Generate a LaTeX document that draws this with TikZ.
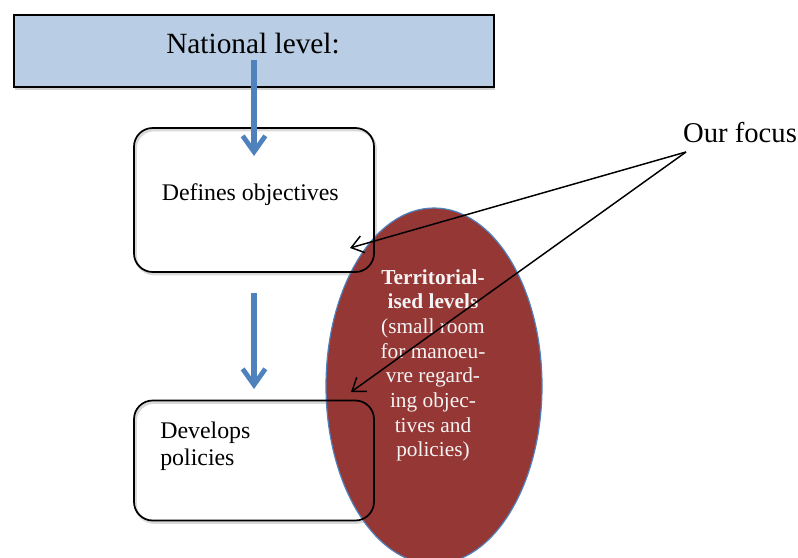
\documentclass[tikz,border=0pt]{standalone}
\usepackage{fontspec}
\setmainfont{Liberation Serif}
\usetikzlibrary{arrows.meta,shadows,shapes.geometric}
\definecolor{accblue}{HTML}{4F81BD}
\definecolor{lightblue}{HTML}{B9CDE5}
\definecolor{darkred}{HTML}{953735}
\definecolor{paletext}{HTML}{F4F4F4}
\tikzset{
  softshadow/.style={drop shadow={opacity=0.3,shadow xshift=1pt,shadow yshift=-2pt,fill=black!60}},
  natbox/.style={draw=black,line width=1.4pt,fill=lightblue,minimum width=360pt,minimum height=54pt,inner sep=0pt,softshadow},
  roundbox/.style={draw=black,line width=1.3pt,rounded corners=14pt,minimum width=180pt,inner sep=0pt},
  boxshadow/.style={draw=black!25,line width=2pt,rounded corners=14pt,minimum width=180pt,inner sep=0pt,opacity=0.6},
  flowarrow/.style={draw=accblue,line width=4.2pt,-{Straight Barb[length=12pt,width=17pt,line width=3.6pt]}},
  focusarrow/.style={draw=black,line width=1.1pt,-{Straight Barb[length=9pt,width=13pt,line width=1.1pt]}},
  terrshape/.style={ellipse,draw=accblue,line width=0.9pt,fill=darkred,minimum width=162pt,minimum height=267pt,inner sep=0pt},
  bigtext/.style={font=\fontsize{22}{26}\selectfont},
  boxtext/.style={font=\fontsize{17.9}{20}\selectfont,inner sep=0pt},
}
\begin{document}
\begin{tikzpicture}[x=0.75pt,y=-0.75pt]
\useasboundingbox (0,0) rectangle (798,557);
\begin{scope}
\clip (0,0) rectangle (798,557);
% national level box
\node[natbox] (nat) at (254,51) {};
\node[bigtext,anchor=base,inner sep=0pt] (nattext) at (253,53) {National level:};
% soft shadows of the boxes
\node[boxshadow,minimum height=108pt] (defs) at (255.5,202) {};
\node[boxshadow,minimum height=90pt] (devs) at (255.5,462.5) {};
% ellipse
\node[terrshape] (terr) at (434,386) {};
\node[anchor=north,align=center,text=paletext,inner sep=0pt,
      font=\fontsize{16}{18.5}\selectfont] (terrtext) at (433,269)
  {\textbf{Territorial-}\\\textbf{ised levels}\\(small room\\for manoeu-\\vre regard-\\ing objec-\\tives and\\policies)};
% boxes (outline only, drawn over ellipse)
\node[roundbox,minimum height=108pt] (def) at (254,200) {};
\node[roundbox,minimum height=90pt] (dev) at (254,460.5) {};
\node[boxtext,anchor=base west] (deftext) at (161.5,200) {Defines objectives};
\node[boxtext,anchor=base west,align=left] (devtext) at (160,465) {Develops\\policies};
% blue flow arrows
\coordinate (a1s) at (254,60);
\coordinate (a1e) at (254,156);
\coordinate (a2s) at (254,293);
\coordinate (a2e) at (254,389);
\draw[flowarrow] (a1s) -- (a1e);
\draw[flowarrow] (a2s) -- (a2e);
% our focus
\node[font=\fontsize{21.5}{24}\selectfont,inner sep=0pt,anchor=base] (focus) at (740,142) {Our focus};
\coordinate (fs) at (686,152);
\coordinate (t1) at (350,248);
\coordinate (t2) at (351,392);
\draw[focusarrow] (fs) -- (t1);
\draw[focusarrow] (fs) -- (t2);
\end{scope}
\end{tikzpicture}
\end{document}
